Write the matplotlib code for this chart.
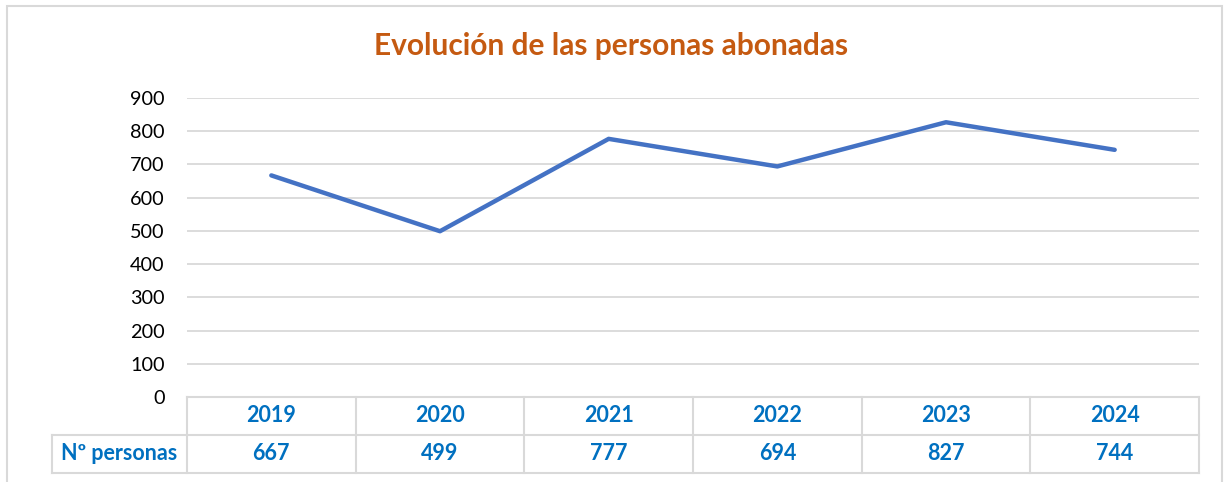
import matplotlib.pyplot as plt
from matplotlib.patches import Rectangle

plt.rcParams['font.family'] = ['Lato', 'DejaVu Sans']

years = ['2019', '2020', '2021', '2022', '2023', '2024']
personas = [667, 499, 777, 694, 827, 744]
row_label = 'Nº personas'
title = 'Evolución de las personas abonadas'

line_color = '#4472C4'
table_color = '#0070C0'
grid_color = '#D9D9D9'

fig = plt.figure(figsize=(12.29, 4.82), dpi=100)

# outer chart frame (bottom edge is cut off in the original)
fig.patches.append(Rectangle((7 / 1229, -0.05), 1215 / 1229, 1.05 - 6 / 482,
                             transform=fig.transFigure, fill=False,
                             edgecolor=grid_color, linewidth=1.5))

ax = fig.add_axes([187 / 1229, 1 - 397 / 482, 1012 / 1229, 299 / 482])
x = list(range(len(years)))
ax.plot(x, personas, color=line_color, linewidth=3.2, solid_capstyle='round')

ax.set_xlim(-0.5, len(years) - 0.5)
ax.set_ylim(0, 900)
ax.set_yticks(range(0, 901, 100))
ax.tick_params(axis='y', length=0, pad=16, labelsize=14.3)
ax.set_xticks([])
ax.yaxis.grid(True, color=grid_color, linewidth=1.3)
ax.set_axisbelow(True)
for s in ax.spines.values():
    s.set_visible(False)

fig.text(0.497, 1 - 46 / 482, title, ha='center', va='center',
         fontsize=21.5, fontweight='bold', color='#C55A11')

# data table below the plot
row_h = 38 / 299
lab_left = -0.5 - 135 / (1012 / 6)
kw = dict(color=grid_color, linewidth=1.5, clip_on=False, transform=ax.get_xaxis_transform())
ax.plot([-0.5, 5.5], [0, 0], **kw)
ax.plot([lab_left, 5.5], [-row_h, -row_h], **kw)
ax.plot([lab_left, 5.5], [-2 * row_h, -2 * row_h], **kw)
ax.plot([lab_left, lab_left], [-row_h, -2 * row_h], **kw)
for i in range(len(years) + 1):
    ax.plot([i - 0.5, i - 0.5], [0, -2 * row_h], **kw)

tkw = dict(ha='center', va='center', fontsize=15.5, fontweight='bold',
           color=table_color, transform=ax.get_xaxis_transform(), clip_on=False)
for i, (yr, v) in enumerate(zip(years, personas)):
    ax.text(i, -row_h / 2, yr, **tkw)
    ax.text(i, -1.5 * row_h, str(v), **tkw)
ax.text((lab_left - 0.5) / 2, -1.5 * row_h, row_label, **tkw)

fig.savefig('out.png', dpi=100)
